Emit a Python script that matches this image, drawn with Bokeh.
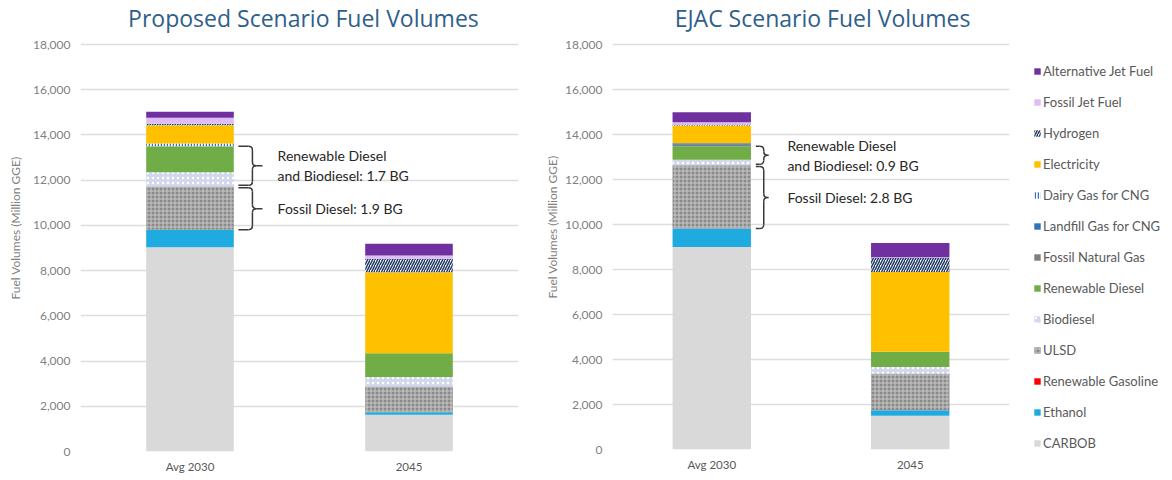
from bokeh.plotting import figure
from bokeh.models import (ColumnDataSource, FactorRange, Range1d, Legend, LegendItem,
                          NumeralTickFormatter, SingleIntervalTicker)
from bokeh.layouts import row
from bokeh.embed import file_html
from bokeh.resources import INLINE
from bokeh.core.properties import value

# ---------------- data ----------------
years = ["Avg 2030", "2045"]
fuels = ["CARBOB", "Ethanol", "Renewable Gasoline", "ULSD", "Biodiesel",
         "Renewable Diesel", "Fossil Natural Gas", "Landfill Gas for CNG",
         "Dairy Gas for CNG", "Electricity", "Hydrogen", "Fossil Jet Fuel",
         "Alternative Jet Fuel"]

# Million GGE, bottom-to-top in the order of `fuels`
proposed_2030 = [9030, 780, 0, 1910, 630, 1150, 0, 0, 120, 810, 60, 270, 270]
proposed_2045 = [1630, 110, 0, 1140, 410, 1060, 0, 0, 0, 3580, 590, 150, 520]
ejac_2030 = [9000, 820, 0, 2810, 250, 600, 60, 70, 0, 790, 40, 110, 440]
ejac_2045 = [1500, 250, 0, 1630, 290, 670, 0, 0, 0, 3550, 620, 30, 640]

titles = ["Proposed Scenario Fuel Volumes", "EJAC Scenario Fuel Volumes"]
proposed_notes = ["Renewable Diesel\nand Biodiesel: 1.7 BG", "Fossil Diesel: 1.9 BG"]
ejac_notes = ["Renewable Diesel\nand Biodiesel: 0.9 BG", "Fossil Diesel: 2.8 BG"]
y_axis_label = "Fuel Volumes (Million GGE)"
y_max = 18000

# ---------------- styles ----------------
FONT = "Lato"
TITLE_FONT = "Open Sans"
fill_colors = ["#D9D9D9", "#1FAAE0", "#FF0000", "#8A8A8A", "#D3D7EC",
               "#70AD47", "#7F7F7F", "#2E75B6", "#FFFFFF", "#FFC000",
               "#FFFFFF", "#DDBDF5", "#7030A0"]
hatch_patterns = [" ", " ", " ", "+", ".", " ", " ", " ", "|", " ", "/", " ", " "]
hatch_colors = ["#000000", "#000000", "#000000", "#C8C8C8", "#FFFFFF",
                "#000000", "#000000", "#000000", "#2E75B6", "#000000",
                "#1F3864", "#000000", "#000000"]
hatch_scales = [6, 6, 6, 4, 5, 6, 6, 6, 3, 6, 5, 6, 6]
hatch_weights = [1, 1, 1, 1, 1.5, 1, 1, 1, 1.5, 1, 1.5, 1, 1]

TITLE_ROOM = 40     # px above the 18,000 line kept inside the frame for the title
TITLE_FROM_TOP = 13  # px from the frame top to the title's middle


def brace(p, xl, xv, xt, y_lo, y_hi, r, dx):
    ym = (y_lo + y_hi) / 2
    kw = dict(line_color="#3A3A3A", line_width=1.5)
    p.segment(x0=[xl, xv, xv + dx, xv, xv - dx],
              y0=[y_hi, y_hi - r, ym, ym - r, y_lo],
              x1=[xv - dx, xv, xt, xv, xl],
              y1=[y_hi, ym + r, ym, y_lo + r, y_lo], **kw)
    p.quadratic(x0=[xv - dx, xv, xv, xv],
                y0=[y_hi, ym + r, ym - r, y_lo + r],
                x1=[xv, xv + dx, xv + dx, xv - dx],
                y1=[y_hi - r, ym, ym, y_lo],
                cx=[xv, xv, xv, xv],
                cy=[y_hi, ym, ym, y_lo], **kw)


def make_chart(title, s2030, s2045, notes, frame_w, data_h, mb_left, mb_right,
               mb_bottom, bar_w, brace_x, title_x, label_standoff, legend=False):
    data = {"years": years}
    for i, f in enumerate(fuels):
        data[f] = [s2030[i], s2045[i]]
    src = ColumnDataSource(data)

    frame_h = data_h + TITLE_ROOM
    y_end = y_max * frame_h / data_h
    p = figure(x_range=FactorRange(*years, range_padding=0),
               y_range=Range1d(0, y_end),
               frame_width=frame_w, frame_height=frame_h, output_backend="svg",
               toolbar_location=None, min_border_left=mb_left,
               min_border_right=mb_right, min_border_top=4,
               min_border_bottom=mb_bottom)
    p.outline_line_color = None
    p.background_fill_color = "white"
    p.border_fill_color = "white"

    rends = p.vbar_stack(fuels, x="years", width=bar_w, source=src,
                         fill_color=fill_colors, line_color=None,
                         hatch_pattern=hatch_patterns, hatch_color=hatch_colors,
                         hatch_scale=hatch_scales, hatch_weight=hatch_weights)

    # title (drawn as text at the top of the frame)
    p.text(x=[title_x], y=[y_end * (1 - TITLE_FROM_TOP / frame_h)], text=[title],
           text_align="center", text_baseline="middle",
           text_font=value(TITLE_FONT), text_font_size="23px",
           text_color="#2F5F8A")

    # axes
    p.xgrid.grid_line_color = None
    p.ygrid.grid_line_color = "#DDDDDD"
    p.ygrid.grid_line_width = 1.5
    p.yaxis.ticker = SingleIntervalTicker(interval=2000)
    p.yaxis.formatter = NumeralTickFormatter(format="0,0")
    for ax in (p.xaxis, p.yaxis):
        ax.axis_line_color = None
        ax.major_tick_line_color = None
        ax.minor_tick_line_color = None
        ax.major_tick_out = 0
        ax.major_tick_in = 0
        ax.major_label_text_font = FONT
    p.yaxis.major_label_text_color = "#7F7F7F"
    p.yaxis.major_label_text_font_size = "12px"
    p.yaxis.major_label_standoff = 6
    p.yaxis.axis_label = y_axis_label
    p.yaxis.axis_label_text_font = FONT
    p.yaxis.axis_label_text_font_style = "normal"
    p.yaxis.axis_label_text_font_size = "12px"
    p.yaxis.axis_label_text_color = "#7F7F7F"
    p.yaxis.axis_label_standoff = label_standoff
    p.xaxis.major_label_text_color = "#595959"
    p.xaxis.major_label_text_font_size = "11.5px"
    p.xaxis.major_label_standoff = 8

    # braces + notes (derived from stacked values of the first bar)
    base_ulsd = sum(s2030[:3])
    top_ulsd = base_ulsd + s2030[3]
    top_rd = top_ulsd + s2030[4] + s2030[5]
    xl, xv, xt, tx, dx = brace_x
    gap = 50
    brace(p, xl, xv, xt, top_ulsd + gap, top_rd, 170, dx)
    brace(p, xl, xv, xt, base_ulsd, top_ulsd - gap, 170, dx)
    p.text(x=[tx, tx],
           y=[(top_ulsd + gap + top_rd) / 2, (base_ulsd + top_ulsd - gap) / 2],
           text=notes, text_align="left", text_baseline="middle",
           text_font=value(FONT), text_font_size="14px",
           text_color="#262626", text_line_height=1.2)

    if legend:
        items = [LegendItem(label=f, renderers=[r])
                 for f, r in zip(reversed(fuels), reversed(rends))]
        lg = Legend(items=items, location=(24, -2), orientation="vertical",
                    glyph_width=8, glyph_height=8, label_height=16, spacing=15,
                    padding=0, margin=0, label_standoff=2,
                    label_text_font=FONT, label_text_font_size="13px",
                    label_text_color="#595959", border_line_color=None,
                    background_fill_alpha=0)
        p.add_layout(lg, "right")
    return p


left = make_chart(titles[0], proposed_2030, proposed_2045, proposed_notes,
                  frame_w=438, data_h=407, mb_left=80, mb_right=22, mb_bottom=29,
                  bar_w=0.4, brace_x=(0.721, 0.785, 0.831, 0.9, 0.018),
                  title_x=1.018, label_standoff=7)
right = make_chart(titles[1], ejac_2030, ejac_2045, ejac_notes,
                   frame_w=397, data_h=405, mb_left=72, mb_right=163, mb_bottom=31,
                   bar_w=0.395, brace_x=(0.722, 0.762, 0.787, 0.881, 0.02),
                   title_x=1.058, label_standoff=2, legend=True)

layout = row(left, right)
open("out.html", "w").write(file_html(layout, INLINE))
